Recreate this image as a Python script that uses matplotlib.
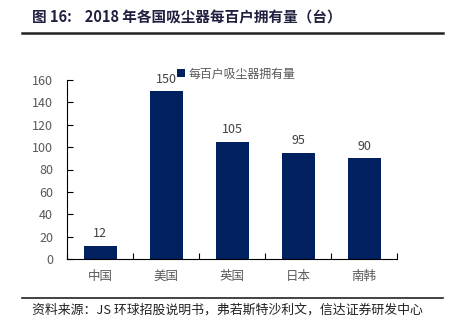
import matplotlib.pyplot as plt
from matplotlib.lines import Line2D

plt.rcParams['font.family'] = ['Noto Sans CJK SC', 'DejaVu Sans']

countries = ['中国', '美国', '英国', '日本', '南韩']
per_hundred = [12, 150, 105, 95, 90]
yticks = [0, 20, 40, 60, 80, 100, 120, 140, 160]

bar_color = '#002060'
grey = '#595959'

fig = plt.figure(figsize=(4.51, 3.28), dpi=100)
ax = fig.add_axes([67 / 451, 1 - 259 / 328, 330 / 451, 179 / 328])

x = range(len(countries))
bars = ax.bar(x, per_hundred, width=0.5, color=bar_color, label='每百户吸尘器拥有量')
for xi, v in zip(x, per_hundred):
    ax.text(xi, v + 5, str(v), ha='center', va='bottom', fontsize=9, color='#404040')

ax.set_xlim(-0.5, len(countries) - 0.5)
ax.set_ylim(0, 160)
ax.set_yticks(yticks)
ax.set_yticklabels([str(t) for t in yticks], fontsize=9, color=grey)
ax.set_xticks([i - 0.5 for i in range(len(countries) + 1)])
ax.set_xticklabels([])
ax.set_xticks(list(x), minor=True)
ax.set_xticklabels(countries, minor=True, fontsize=9, color=grey)
ax.tick_params(axis='x', which='minor', length=0, pad=8)
ax.tick_params(axis='x', which='major', direction='in', length=4, color='black')
ax.tick_params(axis='y', direction='in', length=4, color='black', pad=10)
for s in ['top', 'right']:
    ax.spines[s].set_visible(False)
ax.spines['left'].set_color('black')
ax.spines['bottom'].set_color('black')

ax.legend(loc='upper left', bbox_to_anchor=(0.3, 1.13), frameon=False, fontsize=8.6,
          handlelength=0.7, handleheight=0.7, handletextpad=0.3,
          labelcolor=grey)

fig.text(32 / 451, 1 - 17 / 328, '图 16:    2018 年各国吸尘器每百户拥有量（台）',
         fontsize=10.5, fontweight='bold', color='#1f1f3f', va='center')
fig.add_artist(Line2D([22 / 451, 443 / 451], [1 - 33 / 328, 1 - 33 / 328],
                      color='#222222', lw=1.8))
fig.add_artist(Line2D([22 / 451, 443 / 451], [1 - 298 / 328, 1 - 298 / 328],
                      color='#222222', lw=1.2))
fig.text(32 / 451, 1 - 310 / 328, '资料来源：JS 环球招股说明书，弗若斯特沙利文，信达证券研发中心',
         fontsize=9.3, style='italic', color='#222222', va='center')

fig.savefig('out.png', dpi=100)
